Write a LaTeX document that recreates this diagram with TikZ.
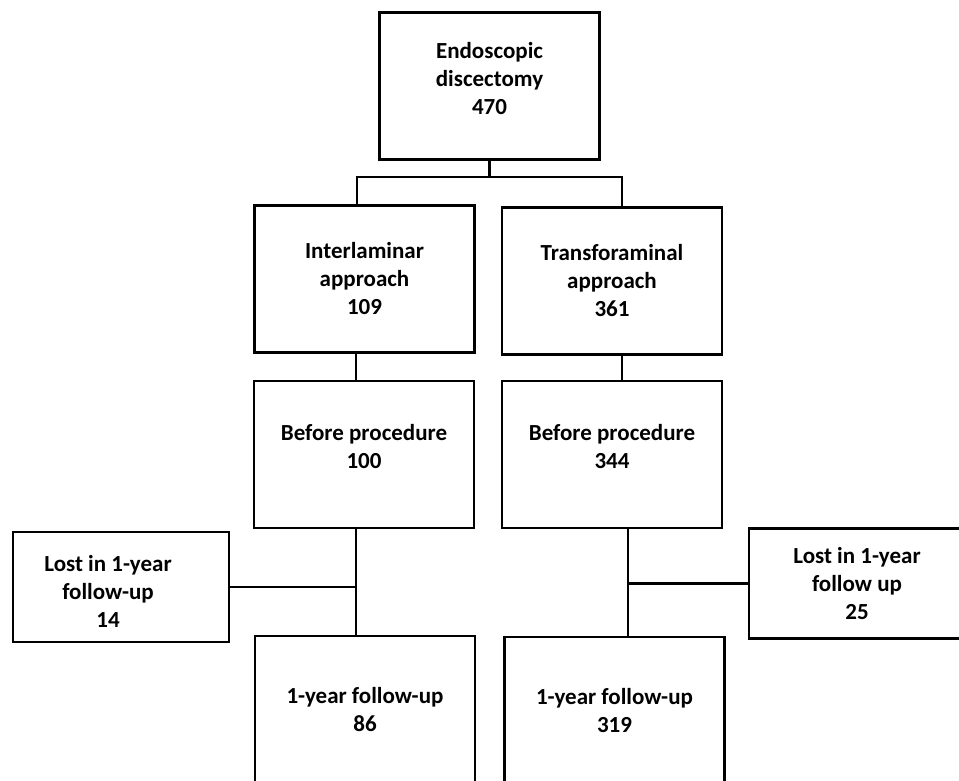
\documentclass[tikz,border=0pt]{standalone}
\usepackage{fontspec}
\setmainfont{Carlito}
\usetikzlibrary{positioning}

\begin{document}
\begin{tikzpicture}[
    x=0.5pt, y=-0.5pt,
    stage/.style={rectangle, draw, line width=1.4pt, align=center, minimum width=110pt, minimum height=73.5pt, font=\fontsize{11.5}{14}\selectfont\bfseries},
    lost/.style={stage, minimum width=108pt, minimum height=55pt},
    link/.style={line width=1.2pt}
]
\useasboundingbox (0,0) rectangle (959,781);

% Top box
\node[stage] (endo) at (489.5,86) {Endoscopic\\discectomy\\470\\[-6pt]};

% Two approaches
\node[stage] (inter) at (364.5,279) {Interlaminar\\approach\\109};
\node[stage] (trans) at (612,281) {Transforaminal\\approach\\361};

% Before procedure
\node[stage] (beforeL) at (364,454.5) {Before procedure\\100\\[-6pt]};
\node[stage] (beforeR) at (612,454.5) {Before procedure\\344\\[-6pt]};

% Lost to follow-up
\node[lost] (lostL) at (121,587) {\begin{tabular}{@{}c@{}}Lost in 1-year\\follow-up\\14\\[-7pt]\end{tabular}\hspace*{13pt}};
\node[lost] (lostR) at (857,583.5) {Lost in 1-year\\follow up\\25};

% 1-year follow-up (cut by the page edge)
\node[stage] (followL) at (365,709.5) {1-year follow-up\\86};
\node[stage] (followR) at (614.5,710.5) {1-year follow-up\\319};

% Junction points
\coordinate (forkL) at (357,177);
\coordinate (forkR) at (622,177);
\coordinate (stemL) at (356,585);
\coordinate (stemR) at (628,587);

% Connectors
\draw[link] (endo.south) -- (endo.south |- forkL);
\draw[link] (inter.north -| forkL) -- (forkL) -- (forkR) -- (trans.north -| forkR);
\draw[link] (inter.south -| stemL) -- (beforeL.north -| stemL);
\draw[link] (trans.south -| forkR) -- (beforeR.north -| forkR);
\draw[link] (beforeL.south -| stemL) -- (followL.north -| stemL);
\draw[link] (beforeR.south -| stemR) -- (followR.north -| stemR);
\draw[link] (lostL.east) -- (lostL.east -| stemL);
\draw[link] (lostR.west) -- (lostR.west -| stemR);

\end{tikzpicture}
\end{document}
